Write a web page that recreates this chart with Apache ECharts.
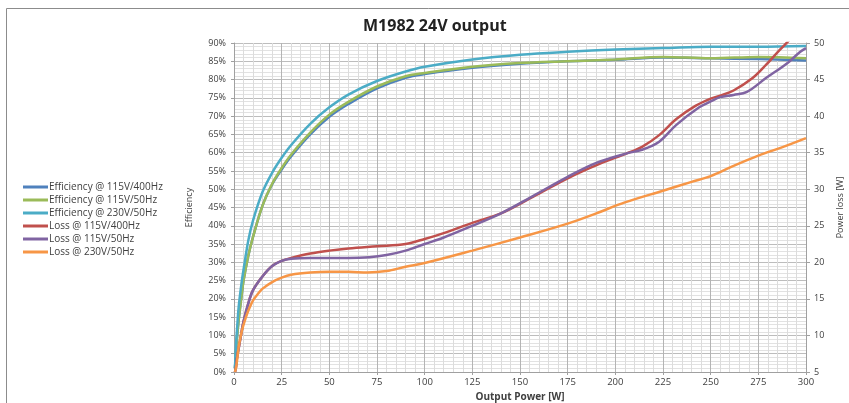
<!DOCTYPE html>
<html><head><meta charset="utf-8">
<script src="https://cdn.jsdelivr.net/npm/echarts@6/dist/echarts.min.js"></script>
<style>html,body{margin:0;padding:0;background:#fff}#c{width:849px;height:403px}</style>
</head><body><div id="c"></div>
<script>
// Data: [output power W, value]
const effBlue = [[0.5,1],[1,5],[1.5,9],[2.5,14.5],[4,21],[5,25],[7.5,31.8],[10,37],[15,45.6],[20,51.3],[25,55.4],[30,59],[40,65],[50,69.8],[60,73.3],[75,77.6],[90,80.5],[100,81.5],[125,83.2],[150,84.3],[175,85],[200,85.4],[225,86],[250,85.8],[275,85.6],[300,85.2]];
const effGreen = [[0.5,1],[1,5],[1.5,9],[2.5,14.5],[4,21],[5,25],[7.5,31.8],[10,37],[15,45.6],[20,51.5],[25,55.8],[30,59.5],[40,65.5],[50,70.4],[60,73.9],[75,78.1],[90,80.9],[100,81.8],[125,83.5],[150,84.5],[175,85],[200,85.5],[225,86.2],[250,85.8],[275,86.2],[300,85.8]];
const effTeal = [[0.5,1],[1,7],[1.5,11],[2.5,18],[4,24.5],[5,28],[7.5,36],[10,41.5],[15,49.3],[20,54.5],[25,58.6],[30,62.1],[40,67.9],[50,72.4],[60,75.9],[75,79.6],[90,82.2],[100,83.5],[125,85.5],[150,86.8],[175,87.6],[200,88.2],[225,88.6],[250,89],[275,89],[300,89.2]];
const lossRed = [[0.5,5],[1,5.6],[1.5,6.8],[2.5,8.3],[3.5,9.8],[5,11.9],[7.5,14.4],[10,16.2],[15,18.1],[20,19.5],[25,20.2],[30,20.6],[40,21.2],[50,21.6],[60,21.9],[75,22.2],[90,22.5],[100,23.2],[110,24.0],[125,25.4],[140,26.7],[157,29.0],[175,31.5],[192,33.5],[206,34.9],[214,35.8],[223,37.4],[232,39.6],[242,41.4],[250,42.4],[255,42.8],[262,43.5],[272,45.2],[279,47],[286,49],[292,50.6],[300,53]];
const lossPurple = [[0.5,5],[1,5.6],[1.5,6.8],[2.5,8.3],[3.5,9.8],[5,11.9],[7.5,14.4],[10,16.2],[15,18.1],[20,19.5],[25,20.2],[30,20.5],[40,20.6],[50,20.6],[60,20.6],[71,20.7],[80,21.0],[90,21.6],[100,22.5],[110,23.4],[125,25.0],[140,26.7],[157,29.1],[175,31.7],[190,33.6],[206,34.9],[214,35.4],[223,36.5],[232,38.8],[244,41.2],[250,42.0],[255,42.6],[262,42.9],[269,43.3],[279,45.2],[290,47.2],[297,48.8],[300,49.3]];
const lossOrange = [[0.5,5],[1,5.5],[1.6,6.6],[2.5,8.5],[4.2,10.7],[6,12.3],[7.7,13.5],[10,14.8],[12.9,15.8],[15,16.4],[20,17.3],[25,17.9],[30,18.3],[40,18.6],[50,18.7],[60,18.7],[70,18.6],[80,18.8],[90,19.4],[100,19.9],[125,21.6],[150,23.4],[175,25.3],[190,26.7],[205,28.2],[225,29.8],[240,31.0],[250,31.8],[262,33.2],[275,34.6],[287,35.7],[300,37]];
const seriesNames = ['Efficiency @ 115V/400Hz','Efficiency @ 115V/50Hz','Efficiency @ 230V/50Hz','Loss @ 115V/400Hz','Loss @ 115V/50Hz','Loss @ 230V/50Hz'];
const colors = ['#4F81BD','#9BBB59','#4BACC6','#C0504D','#8064A2','#F79646'];
const dataSets = [effBlue, effGreen, effTeal, lossRed, lossPurple, lossOrange];
const axisIdx = [0,0,0,1,1,1];

const font = 'Open Sans';
const txt = '#404040';
const chart = echarts.init(document.getElementById('c'));
chart.setOption({
  animation:false,
  color: colors,
  textStyle:{fontFamily:font},
  graphic:[{type:'rect',shape:{x:6.5,y:8.5,width:900,height:500},style:{fill:'none',stroke:'#8c8c8c',lineWidth:1},silent:true}],
  title:{text:'M1982 24V output',left:358,top:13,textStyle:{fontFamily:font,fontSize:16,fontWeight:'bold',color:'#222'}},
  legend:{orient:'vertical',left:18,top:177,itemWidth:25,itemHeight:3,icon:'rect',itemGap:3,
    textStyle:{fontFamily:font,fontSize:10,color:txt,padding:[0,0,0,-4]},data:seriesNames},
  grid:{left:234,right:43,top:43,bottom:31,outerBoundsMode:'none'},
  xAxis:{type:'value',min:0,max:300,interval:25,
    name:'Output Power [W]',nameLocation:'middle',nameGap:17,
    nameTextStyle:{fontFamily:font,fontSize:10,fontWeight:'bold',color:txt},
    axisLine:{lineStyle:{color:'#a0a0a0'}},axisTick:{show:true,length:3,lineStyle:{color:'#a0a0a0'}},
    axisLabel:{fontFamily:font,fontSize:9.5,color:txt,margin:5},
    splitLine:{show:true,lineStyle:{color:'#b4b4b4'}},
    minorTick:{show:false,splitNumber:5},
    minorSplitLine:{show:true,lineStyle:{color:'#dcdcdc'}}},
  yAxis:[
    {type:'value',min:0,max:90,interval:5,position:'left',
     name:'Efficiency',nameLocation:'middle',nameGap:40,nameRotate:90,
     nameTextStyle:{fontFamily:font,fontSize:9,color:txt},
     axisLine:{show:true,lineStyle:{color:'#a0a0a0'}},axisTick:{show:true,length:3,lineStyle:{color:'#a0a0a0'}},
     axisLabel:{fontFamily:font,fontSize:9,color:txt,formatter:'{value}%',margin:8},
     splitLine:{show:true,lineStyle:{color:'#bdbdbd'}},
     minorTick:{show:false,splitNumber:5},
     minorSplitLine:{show:true,lineStyle:{color:'#e2e2e2'}}},
    {type:'value',min:5,max:50,interval:5,position:'right',
     name:'Power loss [W]',nameLocation:'middle',nameGap:30,nameRotate:90,
     nameTextStyle:{fontFamily:font,fontSize:9,color:txt},
     axisLine:{show:true,lineStyle:{color:'#a0a0a0'}},axisTick:{show:true,length:4,lineStyle:{color:'#a0a0a0'}},
     axisLabel:{fontFamily:font,fontSize:9,color:txt,margin:8},
     splitLine:{show:false}}
  ],
  series: dataSets.map((d,i)=>({
    name:seriesNames[i],type:'line',yAxisIndex:axisIdx[i],data:d,smooth:0.35,
    showSymbol:false,symbol:'none',clip:true,
    lineStyle:{width:2.5,color:colors[i]},itemStyle:{color:colors[i]}
  }))
});
</script></body></html>
